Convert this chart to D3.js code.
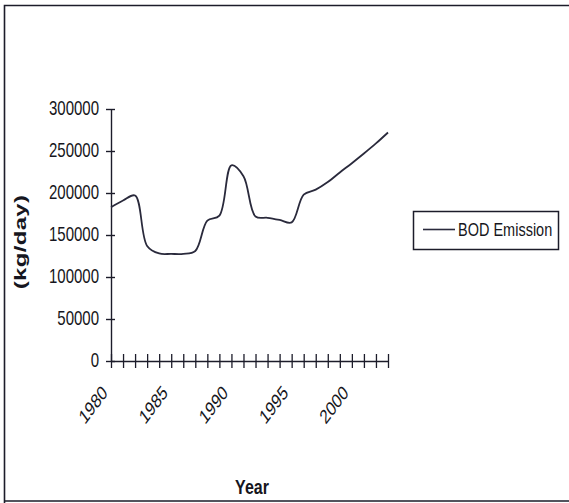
<!DOCTYPE html>
<html>
<head>
<meta charset="utf-8">
<script src="https://cdn.jsdelivr.net/npm/d3@7"></script>
<style>
  html, body { margin: 0; padding: 0; background: #fff; }
  svg { display: block; }
  text { font-family: "Liberation Sans", Arial, sans-serif; fill: #161620; }
</style>
</head>
<body>
<svg id="chart" width="569" height="503"></svg>
<script>
// BOD emission by year (kg/day)
const years = [1980, 1981, 1982, 1983, 1984, 1985, 1986, 1987, 1988, 1989, 1990, 1991,
               1992, 1993, 1994, 1995, 1996, 1997, 1998, 1999, 2000, 2001, 2002, 2003];
const bodEmission = [183000, 191000, 197000, 137000, 128000, 127500, 127500, 131000,
                     167000, 173000, 233000, 220000, 172000, 170500, 168000, 165000,
                     198000, 204000, 213000, 224500, 235500, 247000, 259000, 272000];
const yTicks = [0, 50000, 100000, 150000, 200000, 250000, 300000];
const xLabelYears = [1980, 1985, 1990, 1995, 2000];
const seriesName = "BOD Emission";
const yTitle = "(kg/day)";
const xTitle = "Year";

const ink = "#1c1c2a";
const stretch = 1.32;   // tall, narrow lettering

const svg = d3.select("#chart");

// outer frame
svg.append("path")
  .attr("d", "M4.5,503 L4.5,5.5 L575,5.5 M4.5,501 L575,501")
  .attr("fill", "none").attr("stroke", ink).attr("stroke-width", 1.6);

const x = d3.scalePoint().domain(years).range([111, 388]);
const y = d3.scaleLinear().domain([0, 300000]).range([361, 109]);

// y axis
const gy = svg.append("g").attr("transform", "translate(111,0)")
  .call(d3.axisLeft(y).tickValues(yTicks).tickSizeOuter(0).tickFormat(d3.format("d")));
gy.select(".domain").attr("stroke", ink).attr("stroke-width", 1.4);
gy.selectAll(".tick line").attr("x1", -5).attr("x2", 4).attr("stroke", ink).attr("stroke-width", 1.4);
gy.selectAll(".tick text")
  .attr("x", null).attr("dy", null)
  .attr("text-anchor", "end")
  .attr("font-size", 15)
  .attr("font-family", "'Liberation Sans', Arial, sans-serif")
  .attr("fill", ink)
  .attr("transform", `translate(-12,5.5) scale(1,${stretch})`);

// x axis: a tick for every year, labels every fifth year
const gx = svg.append("g").attr("transform", "translate(0,361)")
  .call(d3.axisBottom(x).tickSizeOuter(0)
    .tickFormat(d => xLabelYears.includes(d) ? String(d) : ""));
gx.select(".domain").attr("stroke", ink).attr("stroke-width", 1.4);
gx.selectAll(".tick line").attr("y1", -7).attr("y2", 7).attr("stroke", ink).attr("stroke-width", 1.3);
gx.selectAll(".tick text")
  .attr("y", null).attr("dy", null)
  .attr("text-anchor", "end")
  .attr("font-size", 15)
  .attr("font-family", "'Liberation Sans', Arial, sans-serif")
  .attr("fill", ink)
  .attr("transform", `translate(-3,33) scale(1,${stretch}) rotate(-45)`);

// series line
const line = d3.line()
  .x((d, i) => x(years[i]))
  .y(d => y(d))
  .curve(d3.curveCatmullRom.alpha(0.5));
svg.append("path")
  .datum(bodEmission)
  .attr("d", line)
  .attr("fill", "none")
  .attr("stroke", "#2a2a3c")
  .attr("stroke-width", 1.8)
  .attr("stroke-linejoin", "round");

// axis titles
svg.append("text")
  .attr("transform", `translate(26,242) scale(1,1.4) rotate(-90)`)
  .attr("text-anchor", "middle")
  .attr("font-size", 17).attr("font-weight", "bold")
  .attr("letter-spacing", 0.3)
  .text(yTitle);

svg.append("text")
  .attr("transform", `translate(252,494) scale(1,${stretch})`)
  .attr("text-anchor", "middle")
  .attr("font-size", 16).attr("font-weight", "bold")
  .text(xTitle);

// legend
const lg = svg.append("g");
lg.append("rect")
  .attr("x", 413.5).attr("y", 211.5).attr("width", 145).attr("height", 38)
  .attr("fill", "#fff").attr("stroke", ink).attr("stroke-width", 1.5);
lg.append("line")
  .attr("x1", 423).attr("x2", 455).attr("y1", 229.5).attr("y2", 229.5)
  .attr("stroke", "#2a2a3c").attr("stroke-width", 1.6);
lg.append("text")
  .attr("transform", `translate(458,236) scale(1,${stretch})`)
  .attr("font-size", 14.5)
  .text(seriesName);
</script>
</body>
</html>
